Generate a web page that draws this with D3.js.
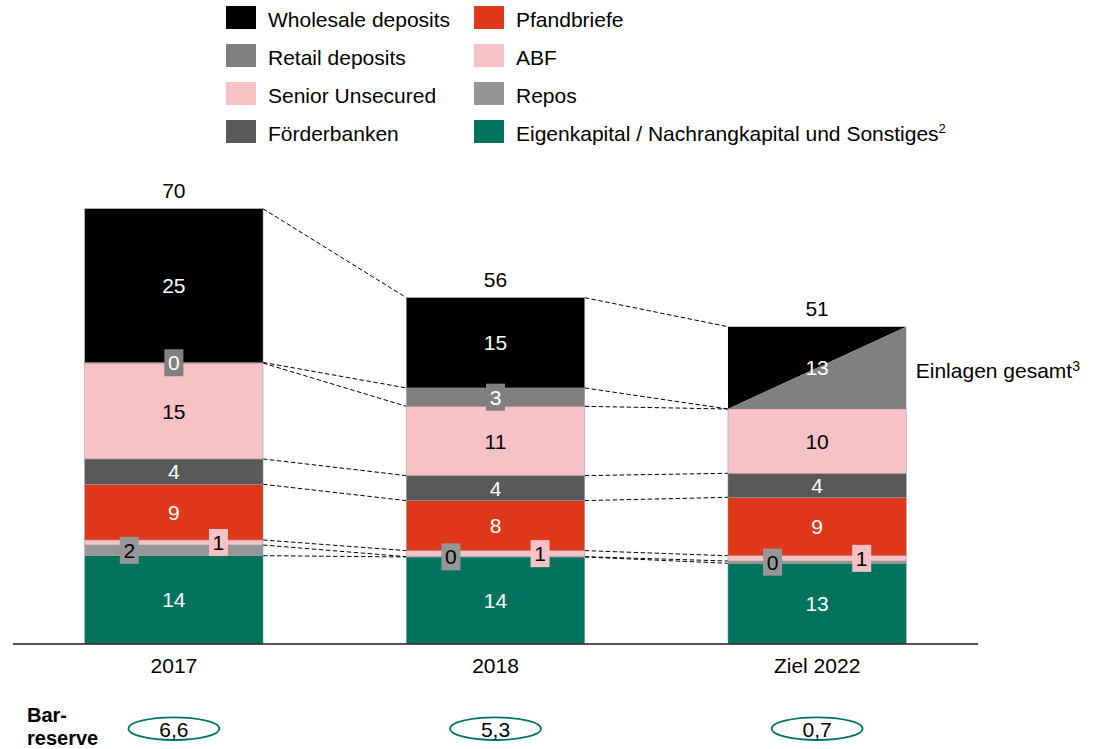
<!DOCTYPE html>
<html>
<head>
<meta charset="utf-8">
<script src="https://cdn.jsdelivr.net/npm/d3@7"></script>
<style>
  html, body { margin: 0; padding: 0; background: #fff; }
  svg { display: block; font-family: "Liberation Sans", Arial, sans-serif; }
</style>
</head>
<body>
<svg id="chart" width="1095" height="749"></svg>
<script>
// Refinanzierungsstruktur (Mrd. EUR)
const categories = ["2017", "2018", "Ziel 2022"];

const eigenkapital      = [14.15, 13.94, 12.92];
const repos             = [1.72, 0.05, 0.37];
const abf               = [0.81, 0.97, 0.85];
const pfandbriefe       = [8.97, 8.06, 9.41];
const foerderbanken     = [4.08, 4.03, 3.87];
const seniorUnsecured   = [15.45, 11.16, 10.36];
const retailDeposits    = [0.1, 2.96, null];
const wholesaleDeposits = [24.76, 14.55, null];
const einlagenGesamt    = [null, null, 13.26];

const barreserve = [6.6, 5.3, 0.7];

const legendLeft  = ["Wholesale deposits", "Retail deposits", "Senior Unsecured", "Förderbanken"];
const legendRight = ["Pfandbriefe", "ABF", "Repos", "Eigenkapital / Nachrangkapital und Sonstiges"];

// stack order, bottom to top
const layers = [
  { key: "Eigenkapital / Nachrangkapital und Sonstiges", values: eigenkapital, color: "#00735E", text: "#fff", label: "plain" },
  { key: "Repos", values: repos, color: "#969696", text: "#000", label: "boxLeft" },
  { key: "ABF", values: abf, color: "#F7C1C6", text: "#000", label: "boxRight" },
  { key: "Pfandbriefe", values: pfandbriefe, color: "#DF381A", text: "#fff", label: "plain" },
  { key: "Förderbanken", values: foerderbanken, color: "#595959", text: "#fff", label: "plain" },
  { key: "Senior Unsecured", values: seniorUnsecured, color: "#F7C1C6", text: "#000", label: "plain" },
  { key: "Retail deposits", values: retailDeposits, color: "#808080", text: "#fff", label: "boxCenter" },
  { key: "Wholesale deposits", values: wholesaleDeposits, color: "#000000", text: "#fff", label: "plain" },
  { key: "Einlagen gesamt", values: einlagenGesamt, color: "split", text: "#fff", label: "plain" }
];
const colorOf = Object.fromEntries(layers.map(l => [l.key, l.color]));

const FONT = 21;
const svg = d3.select("#chart");

const x = d3.scaleBand().domain(categories).range([13, 978]).paddingInner(0.4456).paddingOuter(0.223);
const y = d3.scaleLinear().domain([0, 70]).range([643.5, 209]);
const fmt = d3.format(".0f");
const fmtDe = d3.formatLocale({ decimal: ",", thousands: ".", grouping: [3], currency: ["", " €"] }).format(".1f");

// stacked table
const table = categories.map((c, i) => {
  const row = { category: c };
  layers.forEach(l => { row[l.key] = l.values[i] == null ? 0 : l.values[i]; });
  return row;
});
const stacked = d3.stack().keys(layers.map(l => l.key))(table);
const totals = table.map(r => d3.sum(layers, l => r[l.key]));

// connector lines between neighbouring bars (segment tops + overall top)
const connectorLevels = stacked.slice(0, 7).map(s => s.map(d => d[1]));
connectorLevels.push(totals);
const gConn = svg.append("g");
for (let i = 0; i < categories.length - 1; i++) {
  connectorLevels.forEach(level => {
    gConn.append("line")
      .attr("x1", x(categories[i]) + x.bandwidth())
      .attr("y1", y(level[i]))
      .attr("x2", x(categories[i + 1]))
      .attr("y2", y(level[i + 1]))
      .attr("stroke", "#000")
      .attr("stroke-width", 1)
      .attr("stroke-dasharray", "4.5,2.5");
  });
}

// bar segments
const gBars = svg.append("g");
stacked.forEach((s, li) => {
  const layer = layers[li];
  s.forEach((d, i) => {
    if (layer.values[i] == null) return;
    const x0 = x(categories[i]), w = x.bandwidth();
    const yTop = y(d[1]), yBot = y(d[0]);
    if (layer.color === "split") {
      gBars.append("polygon")
        .attr("points", [[x0, yTop], [x0 + w, yTop], [x0, yBot]].join(" "))
        .attr("fill", colorOf["Wholesale deposits"]);
      gBars.append("polygon")
        .attr("points", [[x0, yBot], [x0 + w, yTop], [x0 + w, yBot]].join(" "))
        .attr("fill", colorOf["Retail deposits"]);
    } else {
      gBars.append("rect")
        .attr("x", x0).attr("y", yTop)
        .attr("width", w).attr("height", Math.max(0, yBot - yTop))
        .attr("fill", layer.color)
        .attr("stroke", "#9a9a9a")
        .attr("stroke-width", 0.5);
    }
  });
});

// segment labels
const gLab = svg.append("g").attr("font-size", FONT).attr("text-anchor", "middle");
stacked.forEach((s, li) => {
  const layer = layers[li];
  s.forEach((d, i) => {
    const v = layer.values[i];
    if (v == null) return;
    const x0 = x(categories[i]), w = x.bandwidth();
    const cy = (y(d[0]) + y(d[1])) / 2;
    let cx = x0 + w / 2;
    if (layer.label === "boxLeft") cx = x0 + w * 0.25;
    if (layer.label === "boxRight") cx = x0 + w * 0.75;
    if (layer.label !== "plain") {
      gLab.append("rect")
        .attr("x", cx - 9.5).attr("y", cy - 13.5)
        .attr("width", 19).attr("height", 27)
        .attr("fill", layer.color);
    }
    gLab.append("text")
      .attr("x", cx).attr("y", cy).attr("dy", "0.36em")
      .attr("fill", layer.text)
      .text(fmt(v));
  });
});

// totals above bars
svg.append("g").attr("font-size", FONT).attr("text-anchor", "middle")
  .selectAll("text").data(categories).join("text")
  .attr("x", c => x(c) + x.bandwidth() / 2)
  .attr("y", (c, i) => y(totals[i]) - 11)
  .attr("fill", "#000")
  .text((c, i) => fmt(totals[i]));

// "Einlagen gesamt" annotation
{
  const i = categories.indexOf("Ziel 2022");
  const s = stacked[layers.findIndex(l => l.key === "Einlagen gesamt")][i];
  const t = svg.append("text")
    .attr("x", x(categories[i]) + x.bandwidth() + 9.5)
    .attr("y", (y(s[0]) + y(s[1])) / 2 + 10)
    .attr("font-size", FONT).attr("fill", "#000");
  t.append("tspan").text("Einlagen gesamt");
  t.append("tspan").attr("font-size", 14).attr("dy", -7).text("3");
}

// baseline
svg.append("line")
  .attr("x1", 13).attr("x2", 978)
  .attr("y1", 644).attr("y2", 644)
  .attr("stroke", "#1a1a1a").attr("stroke-width", 1.5);

// category axis
const xAxis = d3.axisBottom(x).tickSize(0).tickPadding(0);
const gx = svg.append("g").attr("transform", "translate(0,644)").call(xAxis);
gx.select(".domain").remove();
gx.selectAll("text")
  .attr("font-size", FONT)
  .attr("font-family", "Liberation Sans, Arial, sans-serif")
  .attr("fill", "#000")
  .attr("dy", null)
  .attr("y", 28.5);

// Barreserve row
const gRes = svg.append("g");
const rl = gRes.append("text").attr("font-size", 20).attr("font-weight", "bold").attr("fill", "#000");
rl.append("tspan").attr("x", 27).attr("y", 722).text("Bar-");
rl.append("tspan").attr("x", 27).attr("y", 745).text("reserve");
gRes.selectAll("ellipse").data(categories).join("ellipse")
  .attr("cx", c => x(c) + x.bandwidth() / 2)
  .attr("cy", 728.7)
  .attr("rx", 45.5).attr("ry", 11.3)
  .attr("fill", "none")
  .attr("stroke", "#00735E")
  .attr("stroke-width", 1.8);
gRes.selectAll("text.val").data(categories).join("text")
  .attr("class", "val")
  .attr("x", c => x(c) + x.bandwidth() / 2)
  .attr("y", 736.5)
  .attr("text-anchor", "middle")
  .attr("font-size", FONT)
  .attr("fill", "#000")
  .text((c, i) => fmtDe(barreserve[i]));

// legend
const gLeg = svg.append("g").attr("font-size", FONT);
const legendCols = [{ items: legendLeft, sx: 226, tx: 268 }, { items: legendRight, sx: 474, tx: 516 }];
legendCols.forEach(col => {
  col.items.forEach((name, r) => {
    const cy = 17.5 + r * 38;
    gLeg.append("rect")
      .attr("x", col.sx).attr("y", cy - 11.5)
      .attr("width", 30).attr("height", 23)
      .attr("fill", colorOf[name]);
    const t = gLeg.append("text").attr("x", col.tx).attr("y", cy + 9).attr("fill", "#000");
    t.append("tspan").text(name);
    if (name.startsWith("Eigenkapital")) {
      t.append("tspan").attr("font-size", 13).attr("dy", -8).text("2");
    }
  });
});
</script>
</body>
</html>
